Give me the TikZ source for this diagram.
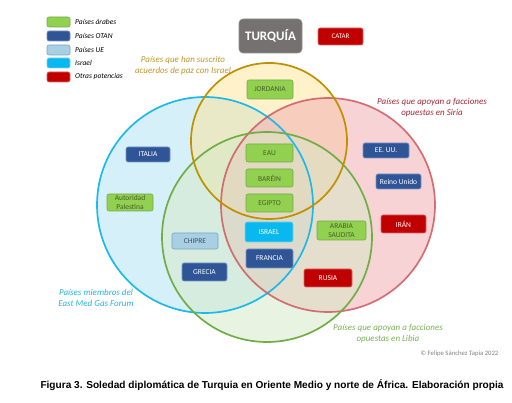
\documentclass[tikz,border=0pt]{standalone}
\usepackage{fontspec}
\setmainfont{Carlito}
\newfontfamily\capfont{Liberation Sans}
\definecolor{cBlueL}{RGB}{30,185,235}
\definecolor{cYelL}{RGB}{191,144,0}
\definecolor{cRedL}{RGB}{205,90,95}
\definecolor{cGrnL}{RGB}{112,173,71}
\definecolor{cBlueF}{RGB}{181,228,247}
\definecolor{cYelF}{RGB}{255,228,150}
\definecolor{cRedF}{RGB}{242,176,181}
\definecolor{cGrnF}{RGB}{213,233,196}
\definecolor{navy}{RGB}{47,85,151}
\definecolor{navyB}{RGB}{120,150,200}
\definecolor{arab}{RGB}{146,208,80}
\definecolor{arabB}{RGB}{112,173,71}
\definecolor{arabT}{RGB}{70,95,45}
\definecolor{ue}{RGB}{169,207,226}
\definecolor{ueB}{RGB}{120,165,200}
\definecolor{ueT}{RGB}{60,80,105}
\definecolor{isr}{RGB}{10,184,240}
\definecolor{isrB}{RGB}{120,210,245}
\definecolor{otras}{RGB}{192,0,0}
\definecolor{otrasB}{RGB}{220,100,100}
\definecolor{turq}{RGB}{118,113,113}
\definecolor{tYel}{RGB}{191,150,40}
\definecolor{tRed}{RGB}{165,40,55}
\definecolor{tBlue}{RGB}{40,178,222}
\definecolor{tGrn}{RGB}{120,178,85}
\begin{document}
\begin{tikzpicture}[x=1pt,y=-1pt,
  box/.style={rounded corners=2pt, line width=0.6pt, inner sep=0pt, align=center,
    font=\fontsize{7.5}{8.5}\selectfont},
  arabbox/.style={box, fill=arab, draw=arabB, text=arabT},
  otanbox/.style={box, fill=navy, draw=navyB, text=white},
  uebox/.style={box, fill=ue, draw=ueB, text=ueT},
  isrbox/.style={box, fill=isr, draw=isrB, text=white},
  otrabox/.style={box, fill=otras, draw=otrasB, text=white},
  legbox/.style={minimum width=23pt, minimum height=10pt},
  legtxt/.style={anchor=west, inner sep=0pt, font=\fontsize{7.5}{9}\itshape},
  clabel/.style={align=center, inner sep=0pt, font=\fontsize{9}{11}\selectfont\itshape},
  ring/.style={line width=1.7pt}
]
\useasboundingbox (0,0) rectangle (512,403);
\fill[white] (0,0) rectangle (512,403);

% circle fills
\fill[cBlueF, fill opacity=0.55] (205,205) circle (108);
\fill[cYelF, fill opacity=0.5] (269,141) circle (78);
\fill[cRedF, fill opacity=0.55] (328,205) circle (107);
\fill[cGrnF, fill opacity=0.5] (267,237) circle (105);
% circle rings
\draw[ring, cBlueL] (205,205) circle (108);
\draw[ring, cRedL, draw opacity=0.85] (328,205) circle (107);
\draw[ring, cGrnL] (267,237) circle (105);
\draw[ring, cYelL] (269,141) circle (78);

% legend
\node[arabbox, legbox] (l1) at (58.5,22) {};
\node[otanbox, legbox] (l2) at (58.5,36) {};
\node[uebox, legbox] (l3) at (58.5,50) {};
\node[isrbox, legbox] (l4) at (58.5,63) {};
\node[otrabox, legbox] (l5) at (58.5,77) {};
\node[legtxt] (t1) at (75,22) {Países árabes};
\node[legtxt] (t2) at (75,36) {Países OTAN};
\node[legtxt] (t3) at (75,50) {Países UE};
\node[legtxt] (t4) at (75,63) {Israel};
\node[legtxt] (t5) at (75,77) {Otras potencias};

% title boxes
\node[box, fill=turq, draw=turq!80, text=white, rounded corners=4pt,
  minimum width=63pt, minimum height=34pt, font=\fontsize{13}{15}\bfseries] (turquia) at (270.5,36) {TURQUÍA};
\node[otrabox, minimum width=45pt, minimum height=17pt, font=\fontsize{7}{8}\selectfont] (catar) at (340.5,36.5) {CATAR};

% country boxes
\node[arabbox, minimum width=46pt, minimum height=19pt] (jordania) at (270,89.5) {JORDANIA};
\node[otanbox, minimum width=44pt, minimum height=15pt] (italia) at (148,154.5) {ITALIA};
\node[arabbox, minimum width=46pt, minimum height=17pt] (autoridad) at (130,202.5) {Autoridad\\Palestina};
\node[arabbox, minimum width=47pt, minimum height=18pt] (eau) at (269.5,153) {EAU};
\node[arabbox, minimum width=47pt, minimum height=18pt] (barein) at (269.5,178) {BARÉIN};
\node[arabbox, minimum width=47pt, minimum height=18pt] (egipto) at (269.5,203) {EGIPTO};
\node[isrbox, minimum width=48pt, minimum height=20pt] (israel) at (269,232) {ISRAEL};
\node[otanbox, minimum width=47pt, minimum height=19pt] (francia) at (269.5,258.5) {FRANCIA};
\node[uebox, minimum width=46pt, minimum height=16pt] (chipre) at (195,241) {CHIPRE};
\node[otanbox, minimum width=45pt, minimum height=18pt] (grecia) at (204.5,272) {GRECIA};
\node[arabbox, minimum width=49pt, minimum height=19pt] (arabia) at (341.5,230.5) {ARABIA\\SAUDITA};
\node[otrabox, minimum width=48pt, minimum height=18pt] (rusia) at (328,278) {RUSIA};
\node[otanbox, minimum width=46pt, minimum height=15pt] (eeuu) at (386,150.5) {EE. UU.};
\node[otanbox, minimum width=45pt, minimum height=15pt] (reino) at (398.5,181.5) {Reino Unido};
\node[otrabox, minimum width=45pt, minimum height=18pt] (iran) at (403.5,224) {IRÁN};

% circle labels
\node[clabel, text=tYel] (lyel) at (183,66) {Países que han suscrito\\acuerdos de paz con Israel};
\node[clabel, text=tRed] (lred) at (432,107.5) {Países que apoyan a facciones\\opuestas en Siria};
\node[clabel, text=tBlue] (lblue) at (96,298) {Países miembros del\\East Med Gas Forum};
\node[clabel, text=tGrn] (lgrn) at (388,334) {Países que apoyan a facciones\\opuestas en Libia};

\node[inner sep=0pt, text=black!50, font=\fontsize{6.7}{8}\selectfont] (copy) at (459.5,354) {© Felipe Sánchez Tapia 2022};

\node[inner sep=0pt, font=\capfont\fontsize{10.1}{12}\bfseries] (caption) at (272,385) {Figura 3. Soledad diplomática de Turquia en Oriente Medio y norte de África. Elaboración propia};
\end{tikzpicture}
\end{document}
